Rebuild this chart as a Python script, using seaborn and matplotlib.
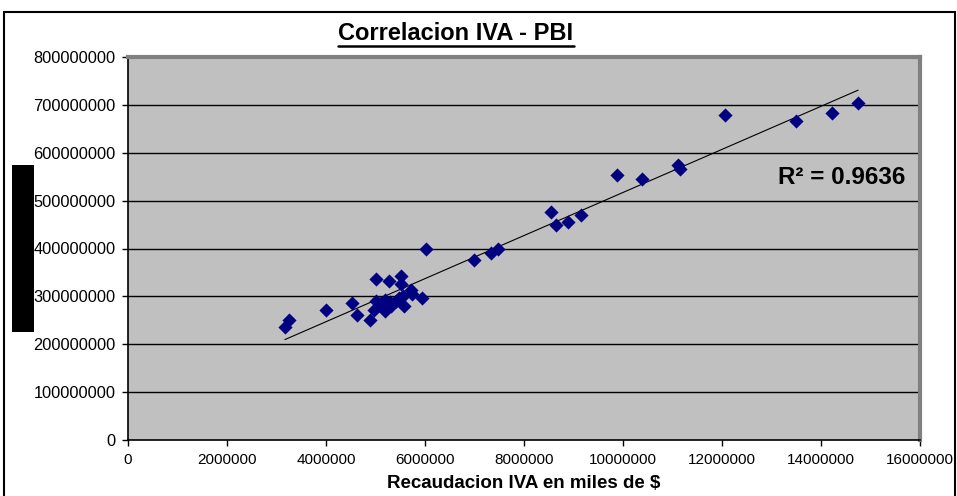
import numpy as np
import pandas as pd
import matplotlib
matplotlib.use("Agg")
import matplotlib.pyplot as plt
import seaborn as sns
from matplotlib.patches import Rectangle
from matplotlib.lines import Line2D

# ---- data (x: IVA collection, thousands of $ ; y: PBI) ----
iva_millions = [3.17, 3.25, 4.01, 4.52, 4.63, 4.89, 5.00, 5.27, 5.51, 5.51,
                4.97, 5.00, 5.10, 5.20, 5.20, 5.31, 5.41, 5.47, 5.58, 5.71,
                5.74, 5.93, 5.30, 5.55, 6.03, 6.99, 7.33, 7.48, 8.54, 8.65,
                8.88, 9.15, 9.87, 10.39, 11.12, 11.16, 12.06, 13.50, 14.23, 14.75]
pbi_millions = [236, 251, 271, 286, 262, 250, 337, 333, 342, 326,
                272, 291, 283, 293, 270, 280, 290, 297, 280, 314,
                304, 297, 288, 300, 400, 377, 391, 400, 476, 450,
                455, 470, 553, 546, 574, 567, 679, 667, 683, 703]

title = "Correlacion IVA - PBI"
xlabel = "Recaudacion IVA en miles de $"
r2_label = "R² = 0.9636"
xticks = [0, 2000000, 4000000, 6000000, 8000000, 10000000, 12000000, 14000000, 16000000]
yticks = [0, 100000000, 200000000, 300000000, 400000000, 500000000,
          600000000, 700000000, 800000000]

df = pd.DataFrame({"iva": np.array(iva_millions) * 1e6,
                   "pbi": np.array(pbi_millions) * 1e6})

sns.set_style("white")
plt.rcParams["font.family"] = ["Liberation Sans", "DejaVu Sans"]
plt.rcParams["text.color"] = "black"
plt.rcParams["axes.labelcolor"] = "black"
plt.rcParams["xtick.color"] = "black"
plt.rcParams["ytick.color"] = "black"

W, H = 957, 496
fig = plt.figure(figsize=(W / 100, H / 100), dpi=100)
fig.patch.set_facecolor("white")
ax = fig.add_axes([128 / W, 1 - 440 / H, (920 - 128) / W, (440 - 57) / H])
ax.set_facecolor("#C0C0C0")

for yv in yticks[1:-1]:
    ax.axhline(yv, color="black", lw=1.0, zorder=1)

sns.regplot(data=df, x="iva", y="pbi", scatter=False, ci=None, ax=ax,
            line_kws=dict(color="black", lw=0.8, zorder=2))
sns.scatterplot(data=df, x="iva", y="pbi", marker="D", s=52, color="#000080",
                edgecolor="#000080", linewidth=0, ax=ax, zorder=3)

ax.set_xlim(0, 16000000)
ax.set_ylim(0, 800000000)
ax.set_xticks(xticks)
ax.set_xticklabels([str(v) for v in xticks], fontsize=11)
ax.set_yticks(yticks)
ax.set_yticklabels([str(v) for v in yticks], fontsize=11.8)
ax.tick_params(axis="both", direction="out", length=4, width=1, color="black",
               labelcolor="black", bottom=True, left=True)
ax.tick_params(axis="x", pad=5)
ax.tick_params(axis="y", pad=5)
ax.set_xlabel(xlabel, fontsize=13.5, fontweight="bold", labelpad=6)
ax.set_ylabel("")

for side in ["top", "right"]:
    ax.spines[side].set_color("#808080")
    ax.spines[side].set_linewidth(3)
for side in ["left", "bottom"]:
    ax.spines[side].set_color("black")
    ax.spines[side].set_linewidth(1.2)

ax.text(0.982, 0.686, r2_label, transform=ax.transAxes, ha="right", va="center",
        fontsize=17.5, fontweight="bold", color="black", zorder=4)

t = fig.text(456 / W, 1 - 33 / H, title, ha="center", va="center",
             fontsize=17, fontweight="bold", color="black")

# figure frame and redaction block
fig.add_artist(Rectangle((4 / W, -0.05), (955 - 4) / W, 1.05 - 12 / H,
                         transform=fig.transFigure, fill=False,
                         edgecolor="black", lw=1.5))
fig.add_artist(Rectangle((12 / W, 1 - 332 / H), 22 / W, 167 / H,
                         transform=fig.transFigure, facecolor="black",
                         edgecolor="none"))

fig.canvas.draw()
bb = t.get_window_extent(fig.canvas.get_renderer())
uy = (bb.y0 - 1) / H
fig.add_artist(Line2D([bb.x0 / W, bb.x1 / W], [uy, uy], transform=fig.transFigure,
                      color="black", lw=1.8))

fig.savefig("out.png", dpi=100)
